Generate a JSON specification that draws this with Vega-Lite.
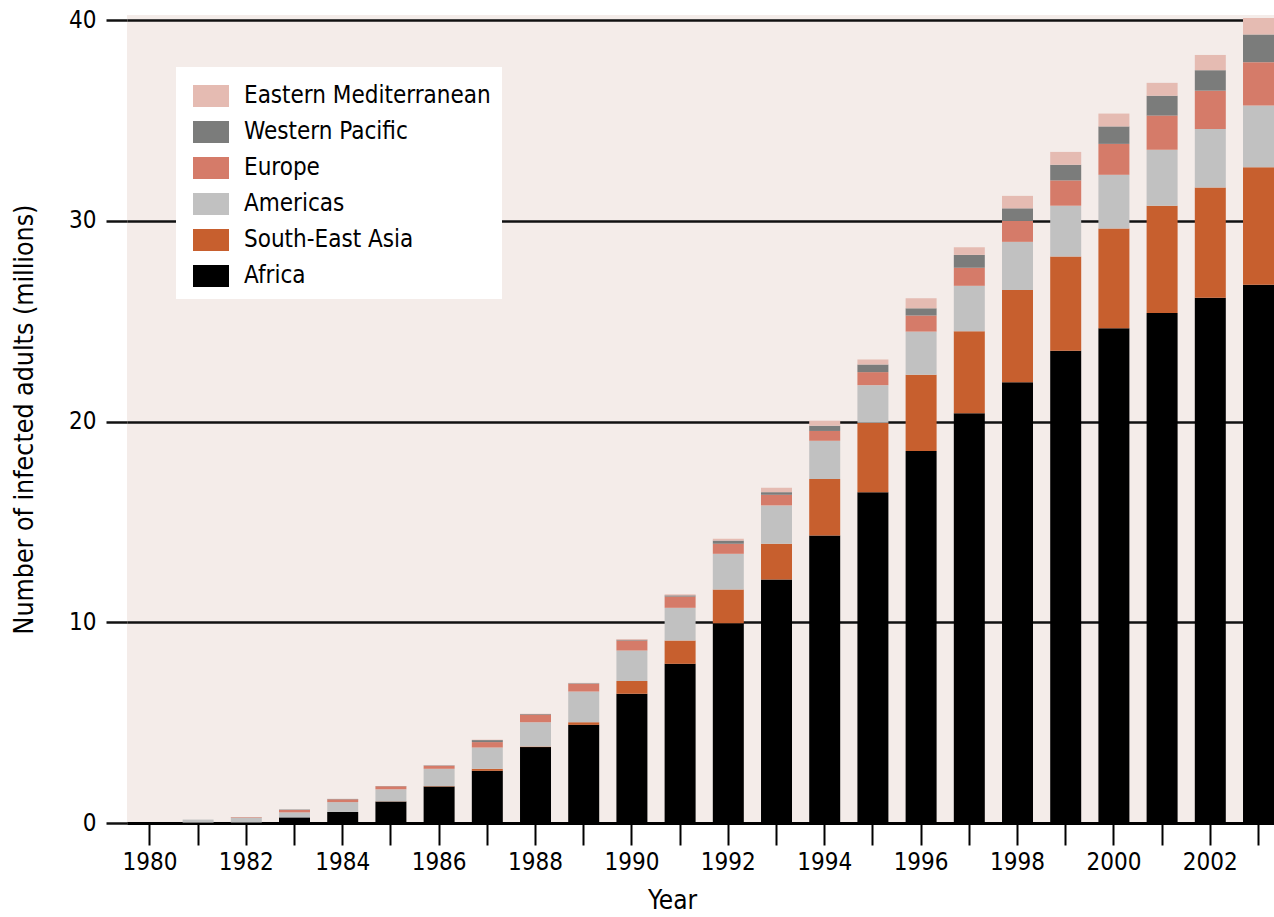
{
  "$schema": "https://vega.github.io/schema/vega-lite/v6.json",
  "width": 1147,
  "height": 808,
  "autosize": {"type": "none"},
  "padding": {"left": 127, "top": 15, "right": 0, "bottom": 94},
  "background": "#ffffff",
  "config": {
    "view": {"fill": "#f4ece9", "stroke": null},
    "font": "DejaVu Sans Condensed, sans-serif"
  },
  "data": {
    "values": [
      {"year": 1980, "Africa": 0, "South-East Asia": 0, "Americas": 0, "Europe": 0, "Western Pacific": 0, "Eastern Mediterranean": 0},
      {"year": 1981, "Africa": 0.02, "South-East Asia": 0, "Americas": 0.15, "Europe": 0, "Western Pacific": 0, "Eastern Mediterranean": 0},
      {"year": 1982, "Africa": 0.03, "South-East Asia": 0, "Americas": 0.25, "Europe": 0.02, "Western Pacific": 0, "Eastern Mediterranean": 0},
      {"year": 1983, "Africa": 0.28, "South-East Asia": 0, "Americas": 0.25, "Europe": 0.12, "Western Pacific": 0.02, "Eastern Mediterranean": 0},
      {"year": 1984, "Africa": 0.55, "South-East Asia": 0, "Americas": 0.49, "Europe": 0.14, "Western Pacific": 0.02, "Eastern Mediterranean": 0},
      {"year": 1985, "Africa": 1.07, "South-East Asia": 0.01, "Americas": 0.6, "Europe": 0.15, "Western Pacific": 0.01, "Eastern Mediterranean": 0},
      {"year": 1986, "Africa": 1.82, "South-East Asia": 0.02, "Americas": 0.86, "Europe": 0.15, "Western Pacific": 0.02, "Eastern Mediterranean": 0.01},
      {"year": 1987, "Africa": 2.6, "South-East Asia": 0.1, "Americas": 1.06, "Europe": 0.27, "Western Pacific": 0.1, "Eastern Mediterranean": 0.02},
      {"year": 1988, "Africa": 3.78, "South-East Asia": 0.03, "Americas": 1.21, "Europe": 0.38, "Western Pacific": 0.03, "Eastern Mediterranean": 0.01},
      {"year": 1989, "Africa": 4.89, "South-East Asia": 0.13, "Americas": 1.53, "Europe": 0.38, "Western Pacific": 0.03, "Eastern Mediterranean": 0.02},
      {"year": 1990, "Africa": 6.44, "South-East Asia": 0.63, "Americas": 1.52, "Europe": 0.5, "Western Pacific": 0.04, "Eastern Mediterranean": 0.03},
      {"year": 1991, "Africa": 7.93, "South-East Asia": 1.16, "Americas": 1.63, "Europe": 0.56, "Western Pacific": 0.06, "Eastern Mediterranean": 0.05},
      {"year": 1992, "Africa": 9.95, "South-East Asia": 1.68, "Americas": 1.78, "Europe": 0.5, "Western Pacific": 0.16, "Eastern Mediterranean": 0.09},
      {"year": 1993, "Africa": 12.13, "South-East Asia": 1.78, "Americas": 1.91, "Europe": 0.53, "Western Pacific": 0.13, "Eastern Mediterranean": 0.22},
      {"year": 1994, "Africa": 14.32, "South-East Asia": 2.81, "Americas": 1.91, "Europe": 0.49, "Western Pacific": 0.26, "Eastern Mediterranean": 0.25},
      {"year": 1995, "Africa": 16.47, "South-East Asia": 3.47, "Americas": 1.87, "Europe": 0.65, "Western Pacific": 0.38, "Eastern Mediterranean": 0.25},
      {"year": 1996, "Africa": 18.53, "South-East Asia": 3.8, "Americas": 2.15, "Europe": 0.8, "Western Pacific": 0.36, "Eastern Mediterranean": 0.5},
      {"year": 1997, "Africa": 20.41, "South-East Asia": 4.09, "Americas": 2.26, "Europe": 0.9, "Western Pacific": 0.64, "Eastern Mediterranean": 0.38},
      {"year": 1998, "Africa": 21.96, "South-East Asia": 4.59, "Americas": 2.4, "Europe": 1.04, "Western Pacific": 0.63, "Eastern Mediterranean": 0.62},
      {"year": 1999, "Africa": 23.52, "South-East Asia": 4.7, "Americas": 2.53, "Europe": 1.26, "Western Pacific": 0.78, "Eastern Mediterranean": 0.64},
      {"year": 2000, "Africa": 24.65, "South-East Asia": 4.97, "Americas": 2.67, "Europe": 1.54, "Western Pacific": 0.87, "Eastern Mediterranean": 0.64},
      {"year": 2001, "Africa": 25.4, "South-East Asia": 5.35, "Americas": 2.79, "Europe": 1.7, "Western Pacific": 0.99, "Eastern Mediterranean": 0.64},
      {"year": 2002, "Africa": 26.17, "South-East Asia": 5.49, "Americas": 2.91, "Europe": 1.91, "Western Pacific": 1.02, "Eastern Mediterranean": 0.76},
      {"year": 2003, "Africa": 26.81, "South-East Asia": 5.85, "Americas": 3.08, "Europe": 2.16, "Western Pacific": 1.38, "Eastern Mediterranean": 0.82}
    ]
  },
  "transform": [
    {"fold": ["Africa", "South-East Asia", "Americas", "Europe", "Western Pacific", "Eastern Mediterranean"], "as": ["region", "value"]},
    {"window": [{"op": "row_number", "as": "stackIndex"}], "groupby": ["year"]}
  ],
  "mark": {"type": "bar"},
  "encoding": {
    "x": {
      "field": "year",
      "type": "ordinal",
      "scale": {"paddingInner": 0.357, "paddingOuter": 0.077, "align": 1},
      "axis": {
        "title": "Year",
        "labelAngle": 0,
        "labelExpr": "datum.value % 2 == 0 ? datum.label : ''",
        "labelFontSize": 24,
        "labelColor": "#000000",
        "labelPadding": 5,
        "tickSize": 22,
        "tickWidth": 2,
        "tickColor": "#000000",
        "domainColor": "#000000",
        "domainWidth": 3,
        "titleFontSize": 26,
        "titleFontWeight": "normal",
        "titleColor": "#000000",
        "titlePadding": 13,
        "titleX": 545
      }
    },
    "y": {
      "field": "value",
      "type": "quantitative",
      "stack": "zero",
      "scale": {"domain": [0, 40.25], "nice": false},
      "axis": {
        "title": "Number of infected adults (millions)",
        "values": [0, 10, 20, 30, 40],
        "labelFontSize": 24,
        "labelColor": "#000000",
        "labelPadding": 10,
        "tickSize": 21,
        "tickWidth": 2.5,
        "tickColor": "#111111",
        "domain": false,
        "grid": true,
        "gridColor": "#111111",
        "gridWidth": 2.5,
        "gridOpacity": 1,
        "titleFontSize": 26.5,
        "titleFontWeight": "normal",
        "titleColor": "#000000",
        "titlePadding": 30
      }
    },
    "order": {"field": "stackIndex", "type": "quantitative", "sort": "ascending"},
    "color": {
      "field": "region",
      "type": "nominal",
      "scale": {
        "domain": ["Eastern Mediterranean", "Western Pacific", "Europe", "Americas", "South-East Asia", "Africa"],
        "range": ["#e5bbb2", "#7b7c7b", "#d57b69", "#c1c1c1", "#c75f2e", "#000000"]
      },
      "legend": {
        "title": null,
        "orient": "none",
        "legendX": 49,
        "legendY": 52,
        "fillColor": "#ffffff",
        "padding": 11,
        "symbolType": "M-1,-0.61H1V0.61H-1Z",
        "symbolSize": 1296,
        "symbolStrokeWidth": 0,
        "symbolOpacity": 1,
        "symbolOffset": 6,
        "labelFontSize": 24,
        "labelColor": "#000000",
        "labelOffset": 15,
        "rowPadding": 6,
        "labelLimit": 400
      }
    }
  }
}
